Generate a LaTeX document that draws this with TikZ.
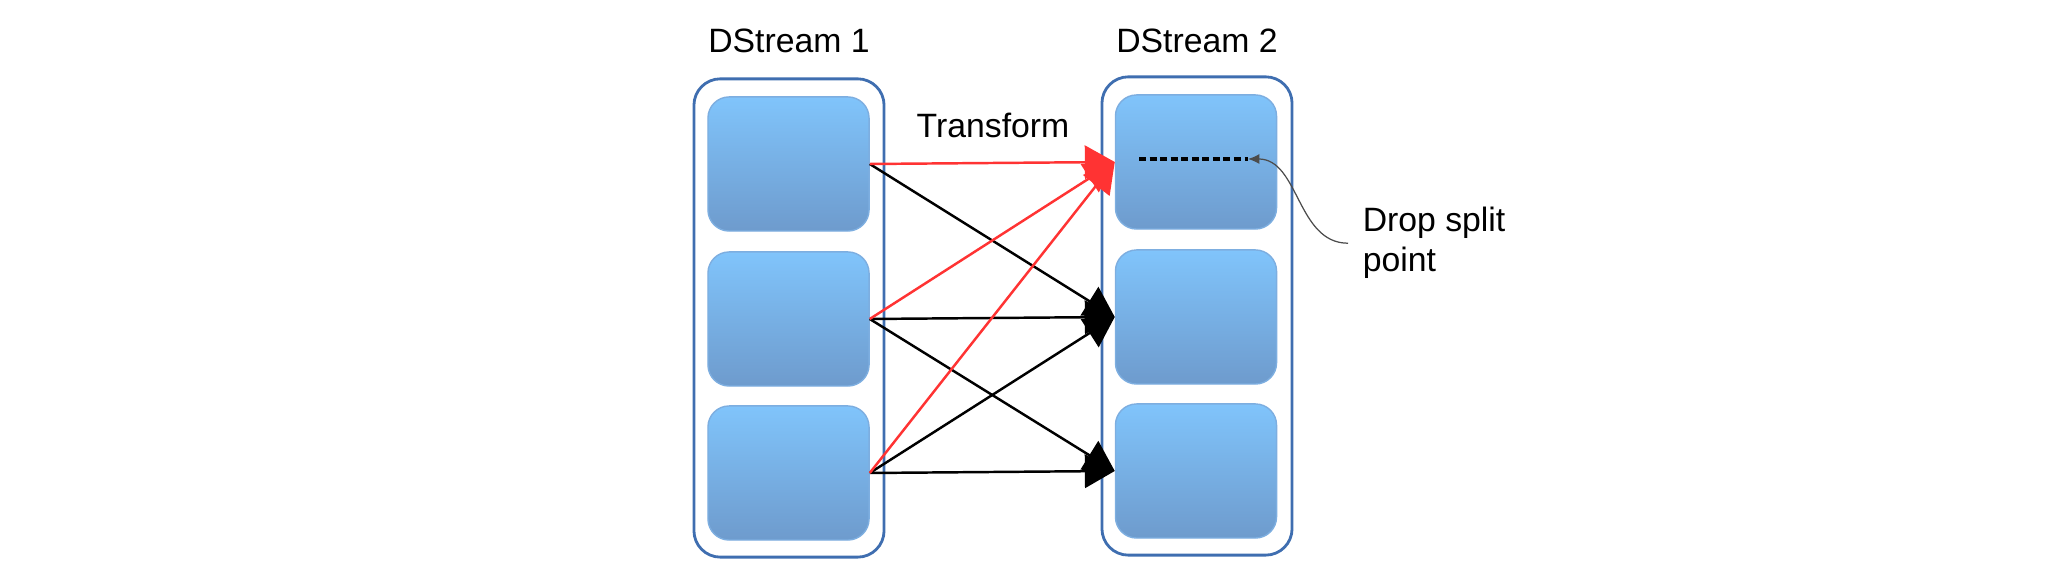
\documentclass[tikz,border=0pt]{standalone}
\usepackage{fontspec}
\setmainfont{Liberation Sans}
\usetikzlibrary{arrows.meta}

\definecolor{frame}{HTML}{3F6EB0}
\definecolor{celltop}{HTML}{80C4FB}
\definecolor{cellbot}{HTML}{6E9BCD}
\definecolor{cellline}{HTML}{7DAEE0}
\definecolor{arrowred}{HTML}{FF3333}

\begin{document}
\begin{tikzpicture}[x=0.01cm, y=-0.01cm,
  font=\fontsize{9.6}{11.4}\selectfont,
  stream/.style={draw=frame, line width=0.8pt, rounded corners=7.5pt,
    minimum width=1.9cm, minimum height=4.78cm, inner sep=0pt},
  cell/.style={draw=cellline, line width=0.4pt, top color=celltop,
    bottom color=cellbot, rounded corners=6pt,
    minimum width=1.61cm, minimum height=1.34cm, inner sep=0pt},
  flow/.style={line width=0.7pt, -{Triangle[length=8.5pt, width=9.5pt]}},
  heading/.style={inner sep=0pt, anchor=base}]
  \useasboundingbox (0,0) rectangle (2048,583);
  % two streams, three batches each (pixel coordinates, y downwards)
  \node[stream] (s1) at (789,318) {};
  \node[stream] (s2) at (1197,316) {};
  \node[cell] (a1) at (788.5,164) {};
  \node[cell] (a2) at (788.5,319) {};
  \node[cell] (a3) at (788.5,473) {};
  \node[cell] (b1) at (1196,162) {};
  \node[cell] (b2) at (1196,317) {};
  \node[cell] (b3) at (1196,471) {};
  \node[heading] (h1) at (789,53) {DStream 1};
  \node[heading] (h2) at (1197,53) {DStream 2};
  \node[heading] (tf) at (993,138) {Transform};
  % black links
  \draw[flow] (a1.east) -- (b2.west);
  \draw[flow] (a2.east) -- (b2.west);
  \draw[flow] (a3.east) -- (b2.west);
  \draw[flow] (a2.east) -- (b3.west);
  \draw[flow] (a3.east) -- (b3.west);
  % red links into the first batch
  \draw[flow, arrowred] (a1.east) -- (b1.west);
  \draw[flow, arrowred] (a2.east) -- (b1.west);
  \draw[flow, arrowred] (a3.east) -- (b1.west);
  % split point
  \coordinate (cut0) at (1139,159);
  \coordinate (cut) at (1248,159);
  \draw[line width=1pt, dash pattern=on 2pt off 1pt] (cut0) -- (cut);
  \node[inner sep=4pt, anchor=base west, align=left] (note) at (1348,272)
    {Drop split\\point};
  \draw[black!70, line width=0.35pt, -{Latex[length=3.2pt, width=2.8pt]}]
    (note.west) to[out=180, in=0] (cut);
\end{tikzpicture}
\end{document}
